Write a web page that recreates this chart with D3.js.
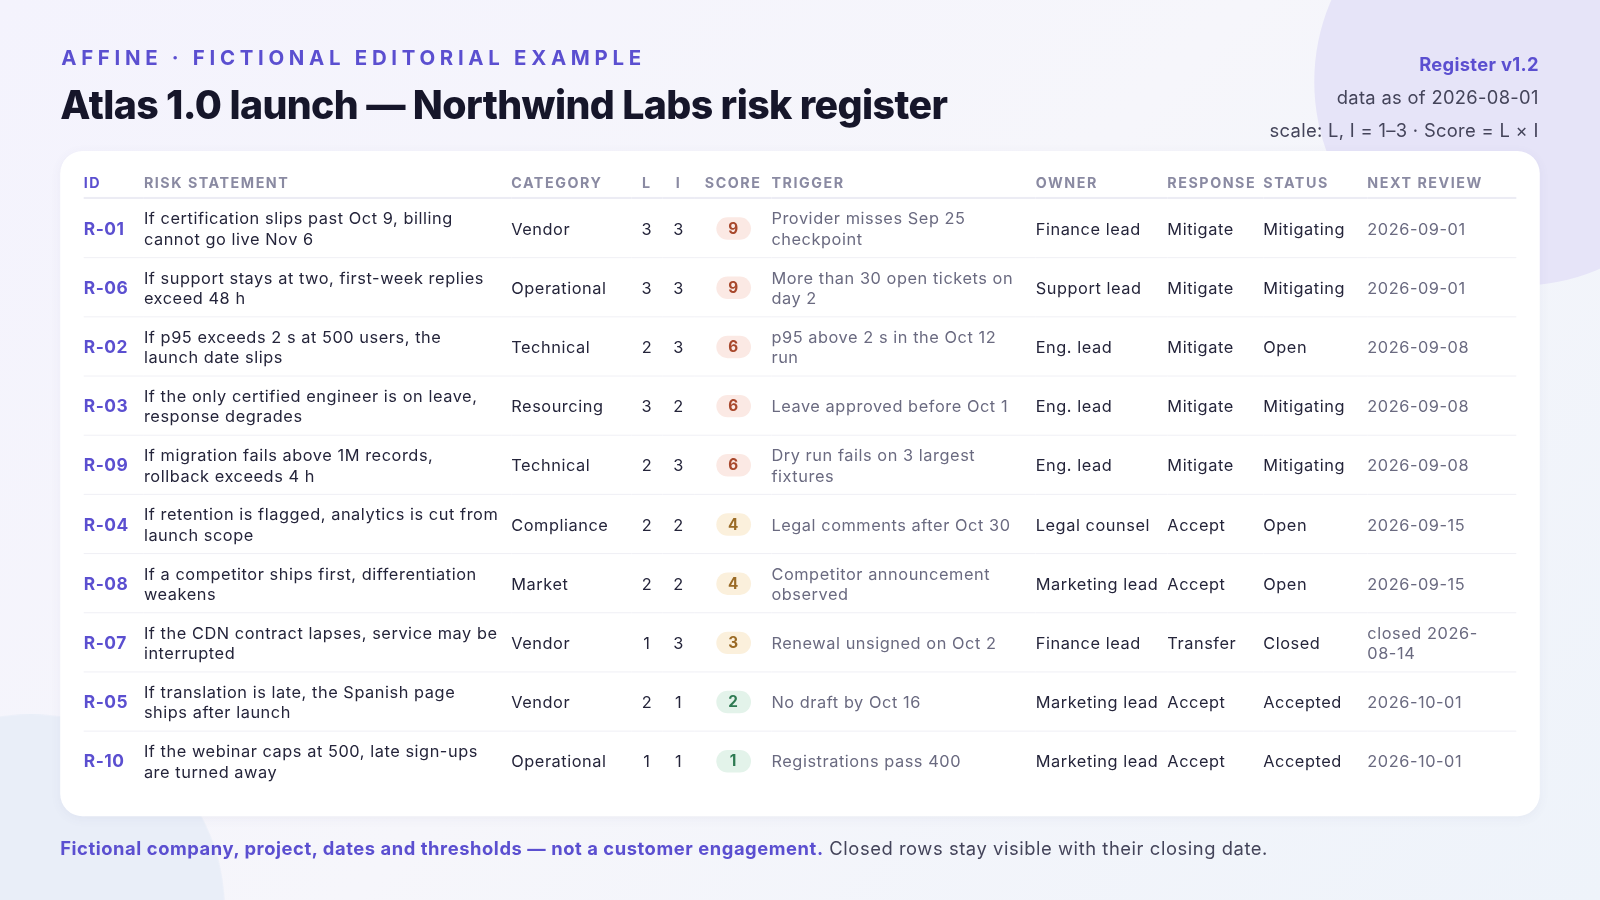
<!DOCTYPE html>
<html lang="en">
<head>
<meta charset="UTF-8">
<title>Risk register</title>
<script src="https://d3js.org/d3.v7.min.js"></script>
<style>
  html, body { margin: 0; width: 1600px; height: 900px; overflow: hidden; }
  body {
    font-family: Inter, "Noto Sans", sans-serif;
    background: linear-gradient(135deg, #f4f3fd 0%, #f6f6fb 50%, #eef3fa 100%);
    position: relative; color: #24243a;
  }
  #stage { position: absolute; left: 0; top: 0; width: 1568px; height: 882px; transform: scale(1.0204); transform-origin: 0 0; }
  .blob1 { position: absolute; right: -120px; top: -120px; width: 400px; height: 400px; border-radius: 50%; background: #e6e4f8; }
  .blob2 { position: absolute; left: -160px; top: 700px; width: 380px; height: 380px; border-radius: 50%; background: #e9eef8; }
  .kicker { position: absolute; left: 60px; top: 45px; font-size: 20px; font-weight: 700; letter-spacing: 4.6px; color: #5b4fd0; }
  h1 { position: absolute; left: 59px; top: 80px; margin: 0; font-size: 38.5px; font-weight: 800; letter-spacing: -0.6px; color: #16162a; }
  .meta { position: absolute; right: 60px; top: 48px; text-align: right; font-size: 18px; line-height: 32px; color: #44445a; letter-spacing: 0.3px; }
  .meta b { color: #5b4fd0; }
  .card { position: absolute; left: 59px; top: 148px; width: 1450px; height: 652px; background: #fff; border-radius: 22px; box-shadow: 0 2px 10px rgba(80,80,140,0.06); }
  table { position: absolute; left: 23px; top: 15px; border-collapse: collapse; table-layout: fixed; width: 1404px; }
  th { font-size: 14px; font-weight: 700; letter-spacing: 1.5px; color: #8a8aa2; text-align: left; padding: 0; height: 30px; border-bottom: 2px solid #ececf4; white-space: nowrap; }
  th.id { color: #5b4fd0; }
  td { font-size: 16px; line-height: 20px; padding: 0 10px 0 0; height: 57px; border-bottom: 1.5px solid #f0f0f5; vertical-align: middle; letter-spacing: 0.55px; }
  tr:last-child td { border-bottom: none; }
  .c { text-align: center; padding: 0; }
  td.id { color: #5b4fd0; font-weight: 700; font-size: 17px; }
  td.trig { color: #6a6a80; }
  .badge { display: inline-block; width: 34px; height: 22px; line-height: 22px; border-radius: 11px; font-weight: 700; font-size: 15px; letter-spacing: 0; }
  .foot { position: absolute; left: 59px; top: 821px; font-size: 18px; color: #44445a; letter-spacing: 0.55px; }
  .foot b { color: #5b4fd0; }
</style>
</head>
<body>
<div id="stage">
<div class="blob1"></div><div class="blob2"></div>
<div class="kicker">AFFINE · FICTIONAL EDITORIAL EXAMPLE</div>
<h1>Atlas 1.0 launch — Northwind Labs risk register</h1>
<div class="meta"><b>Register v1.2</b><br>data as of 2026-08-01<br>scale: L, I = 1–3 · Score = L × I</div>
<div class="card"><table id="tbl"><colgroup></colgroup><thead><tr></tr></thead><tbody></tbody></table></div>
<div class="foot"><b>Fictional company, project, dates and thresholds — not a customer engagement.</b> Closed rows stay visible with their closing date.</div>
</div>
<script>
const headers = ["ID", "RISK STATEMENT", "CATEGORY", "L", "I", "SCORE", "TRIGGER", "OWNER", "RESPONSE", "STATUS", "NEXT REVIEW"];
const colWidths = [59, 360, 118, 30, 32, 75, 259, 129, 94, 102, 146];
const ids = ["R-01", "R-06", "R-02", "R-03", "R-09", "R-04", "R-08", "R-07", "R-05", "R-10"];
const statements = [
  "If certification slips past Oct 9, billing cannot go live Nov 6",
  "If support stays at two, first-week replies exceed 48 h",
  "If p95 exceeds 2 s at 500 users, the launch date slips",
  "If the only certified engineer is on leave, response degrades",
  "If migration fails above 1M records, rollback exceeds 4 h",
  "If retention is flagged, analytics is cut from launch scope",
  "If a competitor ships first, differentiation weakens",
  "If the CDN contract lapses, service may be interrupted",
  "If translation is late, the Spanish page ships after launch",
  "If the webinar caps at 500, late sign-ups are turned away"
];
const categories = ["Vendor", "Operational", "Technical", "Resourcing", "Technical", "Compliance", "Market", "Vendor", "Vendor", "Operational"];
const likelihood = [3, 3, 2, 3, 2, 2, 2, 1, 2, 1];
const impact = [3, 3, 3, 2, 3, 2, 2, 3, 1, 1];
const triggers = [
  "Provider misses Sep 25 checkpoint",
  "More than 30 open tickets on day 2",
  "p95 above 2 s in the Oct 12 run",
  "Leave approved before Oct 1",
  "Dry run fails on 3 largest fixtures",
  "Legal comments after Oct 30",
  "Competitor announcement observed",
  "Renewal unsigned on Oct 2",
  "No draft by Oct 16",
  "Registrations pass 400"
];
const owners = ["Finance lead", "Support lead", "Eng. lead", "Eng. lead", "Eng. lead", "Legal counsel", "Marketing lead", "Finance lead", "Marketing lead", "Marketing lead"];
const responses = ["Mitigate", "Mitigate", "Mitigate", "Mitigate", "Mitigate", "Accept", "Accept", "Transfer", "Accept", "Accept"];
const statuses = ["Mitigating", "Mitigating", "Open", "Mitigating", "Mitigating", "Open", "Open", "Closed", "Accepted", "Accepted"];
const reviews = ["2026-09-01", "2026-09-01", "2026-09-08", "2026-09-08", "2026-09-08", "2026-09-15", "2026-09-15", "closed 2026-08-14", "2026-10-01", "2026-10-01"];

const badgeColor = s => s >= 6 ? ["#fbe9e4", "#a8482c"] : s >= 3 ? ["#fbf0dc", "#9a6a25"] : ["#e3f3ea", "#2e7a52"];

const tbl = d3.select("#tbl");
tbl.select("colgroup").selectAll("col").data(colWidths).join("col").style("width", d => d + "px");
tbl.select("thead tr").selectAll("th").data(headers).join("th")
  .attr("class", (d, i) => i === 0 ? "id" : (i >= 3 && i <= 5 ? "c" : null))
  .text(d => d);

const rows = ids.map((id, i) => ({
  id, st: statements[i], cat: categories[i], l: likelihood[i], im: impact[i],
  score: likelihood[i] * impact[i], trig: triggers[i], own: owners[i],
  resp: responses[i], stat: statuses[i], rev: reviews[i]
}));

const tr = tbl.select("tbody").selectAll("tr").data(rows).join("tr");
tr.append("td").attr("class", "id").text(d => d.id);
tr.append("td").text(d => d.st);
tr.append("td").text(d => d.cat);
tr.append("td").attr("class", "c").text(d => d.l);
tr.append("td").attr("class", "c").text(d => d.im);
tr.append("td").attr("class", "c").append("span").attr("class", "badge")
  .style("background", d => badgeColor(d.score)[0])
  .style("color", d => badgeColor(d.score)[1])
  .text(d => d.score);
tr.append("td").attr("class", "trig").text(d => d.trig);
tr.append("td").style("white-space", "nowrap").text(d => d.own);
tr.append("td").text(d => d.resp);
tr.append("td").text(d => d.stat);
tr.append("td").style("color", "#6a6a80").text(d => d.rev);
</script>
</body>
</html>
